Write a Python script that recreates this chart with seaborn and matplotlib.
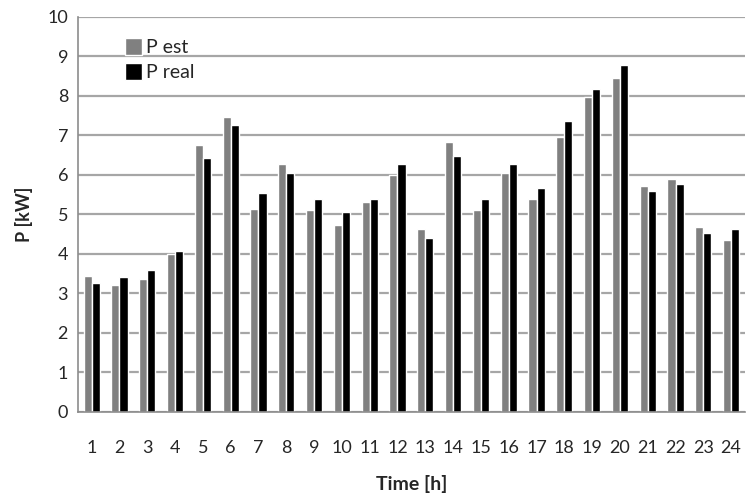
import numpy as np
import pandas as pd
import matplotlib
matplotlib.use("Agg")
import matplotlib.pyplot as plt
import seaborn as sns

hours = list(range(1, 25))
p_est = [3.45, 3.22, 3.37, 4.00, 6.75, 7.46, 5.14, 6.28, 5.10, 4.72, 5.30, 5.99,
         4.63, 6.84, 5.10, 6.05, 5.39, 6.97, 7.96, 8.45, 5.71, 5.90, 4.68, 4.36]
p_real = [3.27, 3.42, 3.60, 4.07, 6.42, 7.27, 5.53, 6.05, 5.39, 5.06, 5.39, 6.28,
          4.40, 6.47, 5.39, 6.28, 5.66, 7.37, 8.17, 8.78, 5.58, 5.77, 4.54, 4.63]
series = ["P est", "P real"]

df = pd.DataFrame({
    "Time": hours * 2,
    "P": p_est + p_real,
    "series": [series[0]] * 24 + [series[1]] * 24,
})

sns.set_style("white")
plt.rcParams["font.family"] = ["Lato", "DejaVu Sans"]

fig = plt.figure(figsize=(7.48, 4.95), dpi=100)
ax = fig.add_axes([0.104, 0.168, 0.892, 0.798])

sns.barplot(data=df, x="Time", y="P", hue="series", palette=["#808080", "#000000"],
            width=0.58, gap=0, saturation=1, ax=ax, legend=True)

ax.set_ylim(0, 10)
ax.set_xlim(-0.5, 23.5)
ax.set_yticks(range(0, 11))
ax.yaxis.grid(True, color="#a6a6a6", linewidth=1.6)
ax.set_axisbelow(True)

for s in ["top", "right"]:
    ax.spines[s].set_visible(False)
for s in ["left", "bottom"]:
    ax.spines[s].set_color("#8c8c8c")
    ax.spines[s].set_linewidth(1.2)

ax.set_xticks(np.arange(-0.5, 24, 1), minor=True)
ax.tick_params(axis="x", which="major", length=0, pad=20, labelsize=13)
ax.tick_params(axis="x", which="minor", length=6, color="#8c8c8c", width=1)
ax.tick_params(axis="y", which="major", length=5, color="#8c8c8c", width=1, labelsize=13, pad=2)

ax.set_xlabel("Time [h]", fontsize=14, fontweight="bold", labelpad=14)
ax.set_ylabel("P [kW]", fontsize=13, fontweight="bold", labelpad=10)

ax.legend(loc="upper left", bbox_to_anchor=(0.045, 0.99), frameon=False, fontsize=14,
          handlelength=0.85, handleheight=0.95, handletextpad=0.2, labelspacing=0.35)

fig.savefig("out.png", dpi=100)
